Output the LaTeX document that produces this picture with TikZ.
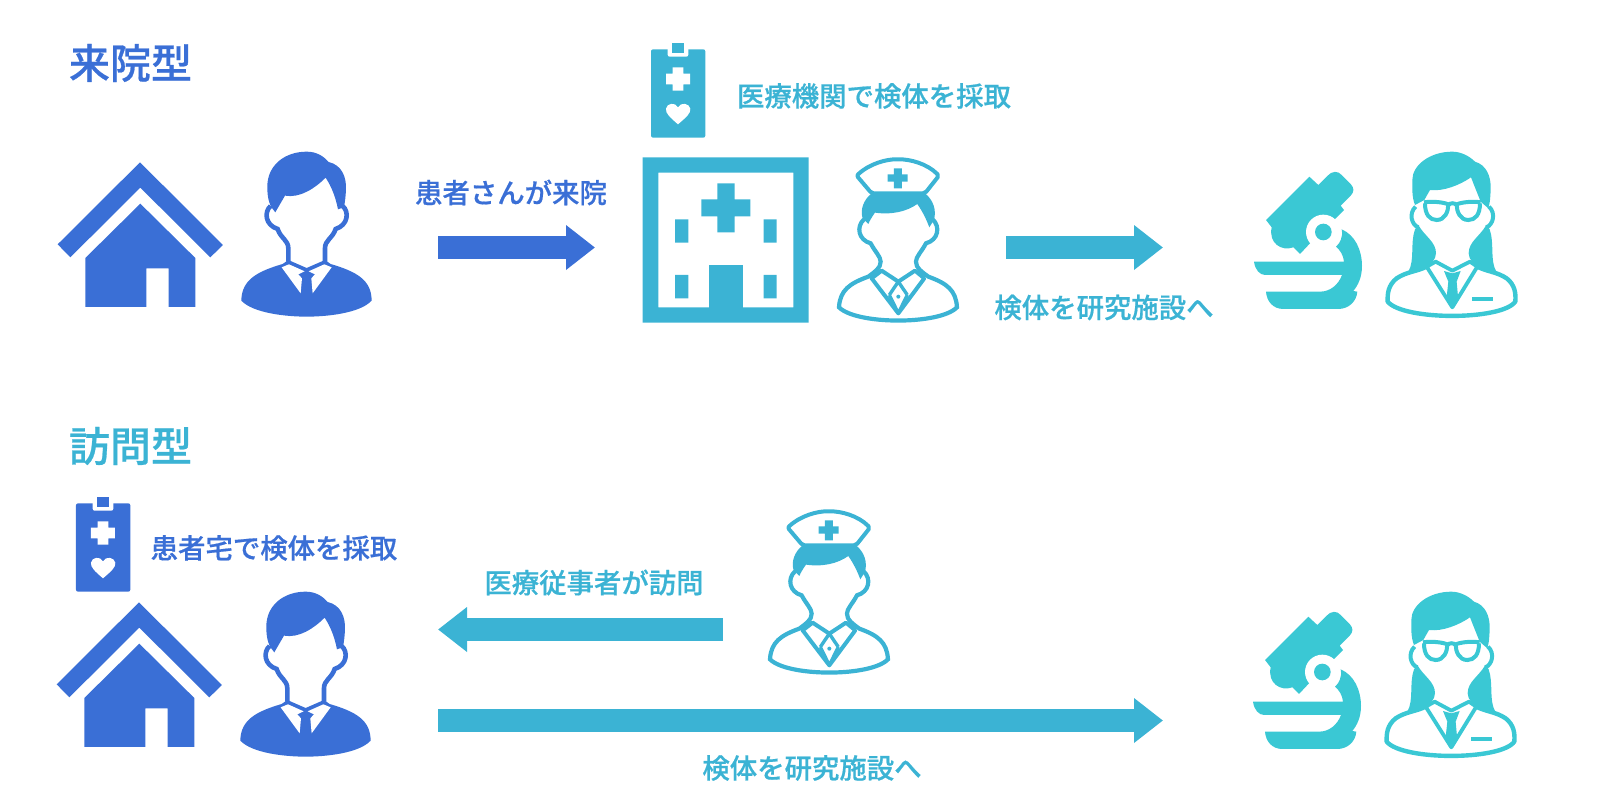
\documentclass[tikz,border=0pt]{standalone}
\usepackage{fontspec}
\usepackage{xcolor}
\usetikzlibrary{arrows.meta}
\setmainfont{Noto Sans CJK JP}[BoldFont={Noto Sans CJK JP Medium},BoldFeatures={FakeBold=0.6}]
\definecolor{bluemain}{HTML}{3A6FD6}
\definecolor{tealmain}{HTML}{3BB3D4}
\definecolor{cyanmain}{HTML}{3AC8D4}
\tikzset{
  icon/.style={scale=.3333},
  bigarrow/.style={line width=22.5pt,-{Triangle[length=29pt,width=43pt]}},
  pics/house/.style={code={
    \fill[#1] (53,343) -- (300,97) -- (549,345) -- (511,382) -- (301,173) -- (91,382) -- cycle;
    \fill[#1] (301,221) -- (136,384) -- (136,531) -- (319,531) -- (319,415) -- (386,415) -- (386,531) -- (466,531) -- (466,384) -- cycle;
  }},
  pics/man/.style={code={
    \fill[#1] (706,247) .. controls (690,230) and (682,210) .. (682,170) .. controls (682,105) and (735,65) .. (800,65) .. controls (830,65) and (850,78) .. (866,96) .. controls (905,105) and (920,140) .. (918,180) .. controls (917,200) and (915,215) .. (912,232) -- (894,238) .. controls (888,205) and (875,170) .. (857,143) .. controls (825,175) and (780,205) .. (735,197) -- cycle;
    \draw[#1,line width=4.6pt] (692,228) .. controls (672,245) and (675,285) .. (713,297) .. controls (722,325) and (745,330) .. (745,355) -- (745,395);
    \draw[#1,line width=4.6pt] (908,228) .. controls (928,245) and (925,285) .. (887,297) .. controls (878,325) and (855,330) .. (855,355) -- (855,395);
    \fill[#1] (728,402) -- (745,390) -- (800,414) -- (855,390) -- (872,402) .. controls (950,425) and (995,450) .. (995,512) .. controls (960,550) and (860,560) .. (800,560) .. controls (740,560) and (640,550) .. (604,512) .. controls (605,450) and (650,425) .. (728,402) -- cycle;
    \fill[white] (725,412) -- (747,403) -- (794,424) -- (775,433) -- (786,445) -- (782,490) -- cycle;
    \fill[white] (875,412) -- (853,403) -- (806,424) -- (825,433) -- (814,445) -- (818,490) -- cycle;
  }},
  pics/nurse/.style={code={
    \fill[#1] (725,490) .. controls (700,510) and (690,540) .. (698,565) -- (715,582) .. controls (720,570) and (728,558) .. (735,548) .. controls (785,555) and (830,545) .. (862,522) .. controls (878,545) and (890,570) .. (898,592) -- (912,570) .. controls (920,540) and (910,510) .. (885,490) -- cycle;
    \draw[#1,line width=4pt,line join=round,rounded corners=2pt] (680,437) .. controls (720,400) and (770,388) .. (803,388) .. controls (840,388) and (890,400) .. (927,437) -- (885,490) -- (725,490) -- cycle;
    \fill[#1] (792,415) rectangle (816,475) (773,433) rectangle (833,455);
    \draw[#1,line width=4.2pt] (702,568) .. controls (678,590) and (685,630) .. (722,640) .. controls (735,665) and (752,680) .. (752,695) .. controls (752,715) and (735,725) .. (715,740) .. controls (660,760) and (630,780) .. (627,832) .. controls (680,885) and (930,885) .. (981,832) .. controls (978,780) and (950,760) .. (895,740) .. controls (875,725) and (858,715) .. (858,695) .. controls (858,680) and (875,665) .. (888,640) .. controls (925,630) and (932,590) .. (908,568);
    \draw[#1,line width=4pt,line join=round] (725,745) -- (755,722) -- (805,755) -- (855,722) -- (883,745) -- (805,850) -- cycle;
    \draw[#1,line width=3.4pt,line join=round] (778,795) -- (805,755) -- (832,795) (778,795) -- (805,850) -- (832,795);
    \fill[#1] (805,800) circle (6);
  }},
  pics/clipboard/.style={code={
    \fill[#1,rounded corners=2pt] (63,58) rectangle (226,323);
    \fill[white,rounded corners=2pt] (113,50) rectangle (175,80);
    \fill[#1] (127,38) rectangle (162,68);
    \fill[white] (128,112) rectangle (160,182) (108,131) rectangle (180,163);
    \fill[white] (144,283) .. controls (120,262) and (106,250) .. (108,236) .. controls (110,220) and (135,215) .. (144,232) .. controls (153,215) and (178,220) .. (181,236) .. controls (183,250) and (168,262) .. (144,283) -- cycle;
  }},
  pics/hospital/.style={code={
    \fill[#1,even odd rule] (38,382) rectangle (536,878) (85,428) rectangle (490,832);
    \fill[#1] (262,460) rectangle (314,607) (214,508) rectangle (361,559);
    \fill[#1] (135,568) rectangle (175,638) (401,568) rectangle (440,638);
    \fill[#1] (135,735) rectangle (175,805) (401,735) rectangle (440,805);
    \fill[#1] (237,705) rectangle (338,840);
  }},
  pics/microscope/.style={code={
    \fill[#1] (305,268) .. controls (345,285) and (366,330) .. (366,378) .. controls (366,410) and (355,435) .. (340,453) -- (352,455) .. controls (350,485) and (325,507) .. (295,507) -- (130,507) .. controls (100,507) and (80,485) .. (78,455) -- (240,455) .. controls (270,455) and (295,435) .. (306,405) -- (75,405) .. controls (60,405) and (45,390) .. (42,365) -- (312,365) .. controls (310,345) and (300,330) .. (288,320) .. controls (300,310) and (310,290) .. (305,268) -- cycle;
    \fill[#1] (78,240) -- (208,110) -- (235,135) -- (262,108) .. controls (275,92) and (295,92) .. (305,105) -- (332,132) .. controls (343,145) and (343,155) .. (332,167) -- (302,197) -- (312,210) -- (287,235) -- (210,310) -- (180,342) -- (160,322) .. controls (125,335) and (85,310) .. (95,262) -- cycle;
    \fill[white] (250,276) circle (52);
    \fill[#1] (250,276) circle (25);
  }},
  pics/woman/.style={code={
    \fill[#1] (525,195) .. controls (515,170) and (517,140) .. (517,120) .. controls (517,75) and (570,35) .. (637,35) .. controls (665,35) and (690,50) .. (705,65) .. controls (740,75) and (752,110) .. (752,140) .. controls (752,165) and (750,190) .. (745,205) -- (722,185) -- (693,112) .. controls (660,135) and (610,155) .. (570,150) -- (553,180) -- cycle;
    \draw[#1,line width=4pt] (527,200) .. controls (505,220) and (515,255) .. (535,262);
    \draw[#1,line width=4pt] (747,200) .. controls (769,220) and (759,255) .. (739,262);
    \fill[#1] (535,255) .. controls (555,290) and (588,305) .. (588,340) .. controls (588,360) and (570,372) .. (560,385) -- (505,395) .. controls (525,360) and (510,310) .. (525,268) -- cycle;
    \fill[#1] (739,255) .. controls (719,290) and (686,305) .. (686,340) .. controls (686,360) and (704,372) .. (714,385) -- (769,395) .. controls (749,360) and (764,310) .. (749,268) -- cycle;
    \draw[#1,line width=4pt] (552,187) .. controls (580,183) and (610,187) .. (625,193) .. controls (625,215) and (615,240) .. (590,240) .. controls (570,240) and (555,225) .. (555,190);
    \draw[#1,line width=4pt] (722,187) .. controls (695,183) and (665,187) .. (650,193) .. controls (650,215) and (660,240) .. (685,240) .. controls (705,240) and (720,225) .. (720,190);
    \draw[#1,line width=4pt] (625,195) .. controls (632,188) and (643,188) .. (650,195);
    \draw[#1,line width=4.4pt,line join=round] (560,380) .. controls (530,395) and (500,395) .. (470,415) .. controls (445,435) and (442,460) .. (443,485) .. controls (490,542) and (785,542) .. (826,485) .. controls (828,460) and (825,435) .. (800,415) .. controls (770,395) and (740,395) .. (712,380);
    \draw[#1,line width=3.8pt,line join=round] (560,380) -- (587,365) -- (637,392) -- (690,365) -- (712,380) -- (637,502) -- cycle;
    \fill[#1] (612,393) -- (637,400) -- (662,393) -- (650,425) -- (655,480) -- (637,502) -- (619,480) -- (625,425) -- cycle;
    \fill[#1] (695,470) rectangle (758,482);
  }},
}

\begin{document}
\begin{tikzpicture}
  [x=1pt,y=-1pt,every node/.style={inner sep=0pt}]
  \useasboundingbox (0,0) rectangle (1597,806);

  % upper row
  \node[font=\fontsize{41}{41}\selectfont\bfseries,text=bluemain] (title1) at (130.5,63) {来院型};
  \pic[icon] at (40,130) {house=bluemain};
  \pic[icon] at (40,130) {man=bluemain};
  \pic[icon] at (630,30) {clipboard=tealmain};
  \pic[icon] at (630,30) {hospital=tealmain};
  \pic[icon] at (630,30) {nurse=tealmain};
  \pic[icon] at (1240,140) {microscope=cyanmain};
  \pic[icon] at (1240,140) {woman=cyanmain};
  \node[font=\fontsize{27.4}{27.4}\selectfont\bfseries,text=tealmain] (take1) at (874,96) {医療機関で検体を採取};
  \node[font=\fontsize{27.4}{27.4}\selectfont\bfseries,text=bluemain] (come) at (511,192.5) {患者さんが来院};
  \node[font=\fontsize{27.4}{27.4}\selectfont\bfseries,text=tealmain] (send1) at (1104,307.5) {検体を研究施設へ};

  % lower row
  \node[font=\fontsize{41}{41}\selectfont\bfseries,text=tealmain] (title2) at (130.5,446) {訪問型};
  \pic[icon] at (55,484) {clipboard=bluemain};
  \pic[icon] at (39,570) {house=bluemain};
  \pic[icon] at (39,570) {man=bluemain};
  \pic[icon] at (561,382) {nurse=tealmain};
  \pic[icon] at (1239,580) {microscope=cyanmain};
  \pic[icon] at (1239,580) {woman=cyanmain};
  \node[font=\fontsize{27.4}{27.4}\selectfont\bfseries,text=bluemain] (take2) at (274,548) {患者宅で検体を採取};
  \node[font=\fontsize{27.4}{27.4}\selectfont\bfseries,text=tealmain] (visit) at (594,582.5) {医療従事者が訪問};
  \node[font=\fontsize{27.4}{27.4}\selectfont\bfseries,text=tealmain] (send2) at (812,768) {検体を研究施設へ};

  \coordinate (a1) at (438,247.5);
  \coordinate (b1) at (595,247.5);
  \coordinate (a2) at (1006,247.5);
  \coordinate (b2) at (1163,247.5);
  \coordinate (a3) at (723,629.5);
  \coordinate (b3) at (438,629.5);
  \coordinate (a4) at (438,720.5);
  \coordinate (b4) at (1163,720.5);

  \foreach \from/\to/\col in {a1/b1/bluemain,a2/b2/tealmain,a3/b3/tealmain,a4/b4/tealmain}
    \draw[bigarrow,\col] (\from) -- (\to);

\end{tikzpicture}
\end{document}
